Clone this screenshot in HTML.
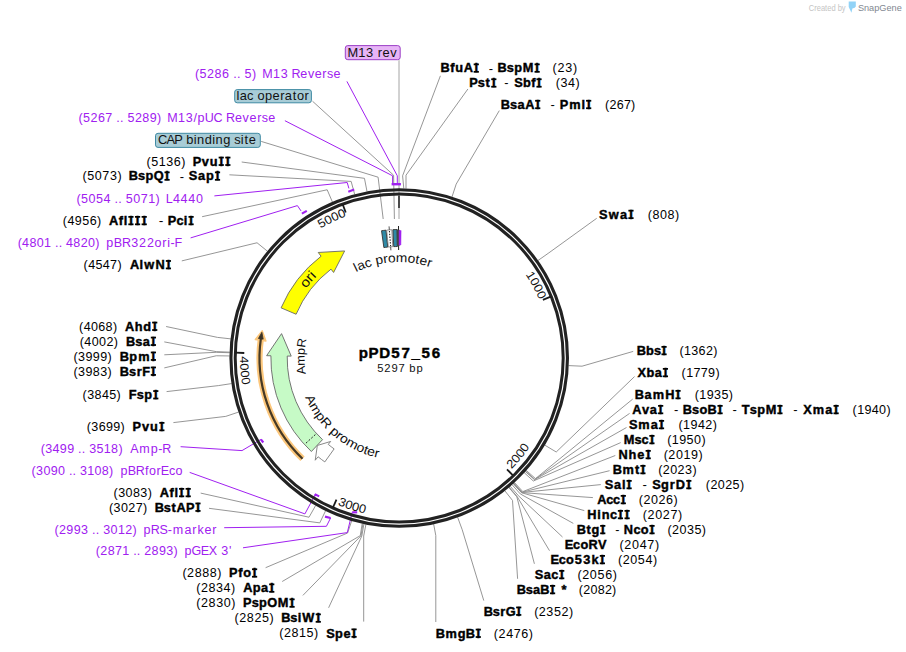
<!DOCTYPE html><html><head><meta charset="utf-8"><style>html,body{margin:0;padding:0;background:#fff;}svg{display:block;}text{font-family:"Liberation Sans",sans-serif;}</style></head><body>
<svg width="906" height="652" viewBox="0 0 906 652">
<rect width="906" height="652" fill="#fff"/>
<polyline points="399.00,60.20 399.00,219.00" fill="none" stroke="#9a9a9a" stroke-width="0.9"/>
<polyline points="312.50,101.20 393.60,175.20 394.40,219.00" fill="none" stroke="#8a8a8a" stroke-width="0.9"/>
<polyline points="261.20,141.40 378.10,177.20 383.20,219.00" fill="none" stroke="#8a8a8a" stroke-width="0.9"/>
<polyline points="241.70,162.00 364.46,178.33 367.03,191.58" fill="none" stroke="#8a8a8a" stroke-width="0.9"/>
<polyline points="229.40,174.80 351.15,181.42 354.69,194.45" fill="none" stroke="#8a8a8a" stroke-width="0.9"/>
<polyline points="202.10,216.70 327.18,189.77 332.49,202.18" fill="none" stroke="#8a8a8a" stroke-width="0.9"/>
<polyline points="181.80,260.90 257.04,242.77 267.53,251.27" fill="none" stroke="#8a8a8a" stroke-width="0.9"/>
<polyline points="166.10,326.50 217.37,337.37 230.78,338.89" fill="none" stroke="#8a8a8a" stroke-width="0.9"/>
<polyline points="164.30,341.90 216.31,351.65 229.80,352.12" fill="none" stroke="#8a8a8a" stroke-width="0.9"/>
<polyline points="164.30,354.80 216.29,352.30 229.78,352.72" fill="none" stroke="#8a8a8a" stroke-width="0.9"/>
<polyline points="164.30,367.90 216.21,355.78 229.71,355.94" fill="none" stroke="#8a8a8a" stroke-width="0.9"/>
<polyline points="166.60,391.60 218.30,385.62 231.64,383.59" fill="none" stroke="#8a8a8a" stroke-width="0.9"/>
<polyline points="173.40,422.60 225.76,416.38 238.56,412.08" fill="none" stroke="#8a8a8a" stroke-width="0.9"/>
<polyline points="200.70,493.10 309.00,517.23 315.66,505.48" fill="none" stroke="#8a8a8a" stroke-width="0.9"/>
<polyline points="209.00,508.30 319.77,522.86 325.63,510.70" fill="none" stroke="#8a8a8a" stroke-width="0.9"/>
<polyline points="265.60,567.70 347.60,533.00 351.69,520.71" fill="none" stroke="#8a8a8a" stroke-width="0.9"/>
<polyline points="282.20,581.50 360.30,535.60 362.20,523.41" fill="none" stroke="#8a8a8a" stroke-width="0.9"/>
<polyline points="302.90,595.40 361.00,535.80 362.99,523.59" fill="none" stroke="#8a8a8a" stroke-width="0.9"/>
<polyline points="328.60,607.80 361.80,536.00 363.97,523.80" fill="none" stroke="#8a8a8a" stroke-width="0.9"/>
<polyline points="363.70,621.60 363.70,536.00 365.94,524.20" fill="none" stroke="#8a8a8a" stroke-width="0.9"/>
<polyline points="435.80,622.00 435.80,535.60 433.64,523.96" fill="none" stroke="#8a8a8a" stroke-width="0.9"/>
<polyline points="483.80,600.60 462.24,529.80 457.59,517.12" fill="none" stroke="#8a8a8a" stroke-width="0.9"/>
<polyline points="440.40,75.80 402.60,175.80 403.82,188.56" fill="none" stroke="#8a8a8a" stroke-width="0.9"/>
<polyline points="467.90,89.00 406.00,175.20 406.03,188.64" fill="none" stroke="#8a8a8a" stroke-width="0.9"/>
<polyline points="499.30,110.60 456.19,184.10 451.99,196.93" fill="none" stroke="#8a8a8a" stroke-width="0.9"/>
<polyline points="596.70,218.30 548.95,252.81 537.90,260.57" fill="none" stroke="#8a8a8a" stroke-width="0.9"/>
<polyline points="633.20,351.40 582.02,366.19 568.53,365.59" fill="none" stroke="#8a8a8a" stroke-width="0.9"/>
<polyline points="634.50,376.60 556.22,451.99 544.63,445.06" fill="none" stroke="#8a8a8a" stroke-width="0.9"/>
<polyline points="632.70,399.10 535.49,478.62 526.13,470.33" fill="none" stroke="#8a8a8a" stroke-width="0.9"/>
<polyline points="629.60,413.40 534.77,479.42 525.46,471.08" fill="none" stroke="#8a8a8a" stroke-width="0.9"/>
<polyline points="626.50,427.50 534.49,479.74 525.19,471.38" fill="none" stroke="#8a8a8a" stroke-width="0.9"/>
<polyline points="620.70,442.60 533.32,481.02 524.11,472.57" fill="none" stroke="#8a8a8a" stroke-width="0.9"/>
<polyline points="615.30,455.50 522.82,491.58 514.33,482.40" fill="none" stroke="#8a8a8a" stroke-width="0.9"/>
<polyline points="609.60,470.70 522.18,492.16 513.74,482.95" fill="none" stroke="#8a8a8a" stroke-width="0.9"/>
<polyline points="600.80,484.60 521.86,492.45 513.44,483.22" fill="none" stroke="#8a8a8a" stroke-width="0.9"/>
<polyline points="592.90,497.60 521.70,492.60 513.29,483.35" fill="none" stroke="#8a8a8a" stroke-width="0.9"/>
<polyline points="584.30,510.60 521.54,492.74 513.14,483.49" fill="none" stroke="#8a8a8a" stroke-width="0.9"/>
<polyline points="573.30,523.40 520.26,493.90 511.95,484.56" fill="none" stroke="#8a8a8a" stroke-width="0.9"/>
<polyline points="562.50,537.00 518.31,495.61 510.13,486.16" fill="none" stroke="#8a8a8a" stroke-width="0.9"/>
<polyline points="549.50,550.70 517.17,496.59 509.07,487.07" fill="none" stroke="#8a8a8a" stroke-width="0.9"/>
<polyline points="534.40,563.80 516.84,496.87 508.76,487.33" fill="none" stroke="#8a8a8a" stroke-width="0.9"/>
<polyline points="517.60,578.80 512.50,500.43 504.72,490.65" fill="none" stroke="#8a8a8a" stroke-width="0.9"/>
<polyline points="346.90,81.40 397.30,175.80 397.30,184.00" fill="none" stroke="#a020f0" stroke-width="1.0"/>
<polyline points="284.90,120.70 392.60,175.80 392.60,184.00" fill="none" stroke="#a020f0" stroke-width="1.0"/>
<polyline points="214.40,195.90 347.20,182.50 348.90,188.40" fill="none" stroke="#a020f0" stroke-width="1.0"/>
<polyline points="190.60,237.90 297.40,205.60 301.00,210.90" fill="none" stroke="#a020f0" stroke-width="1.0"/>
<polyline points="180.60,446.70 242.00,450.60 260.90,439.40" fill="none" stroke="#a020f0" stroke-width="1.0"/>
<polyline points="189.70,472.40 304.90,513.90 314.60,495.80" fill="none" stroke="#a020f0" stroke-width="1.0"/>
<polyline points="224.20,527.70 326.40,526.30 330.60,518.00" fill="none" stroke="#a020f0" stroke-width="1.0"/>
<polyline points="243.00,547.80 347.30,532.60 352.20,512.30" fill="none" stroke="#a020f0" stroke-width="1.0"/>
<text transform="scale(1.02,1)" x="191.10 195.67 203.03 210.39 217.75 224.98 228.66 232.33 236.01 239.82 247.13" y="77.70" font-size="12.3" fill="#a020f0">(5286 .. 5)</text>
<text transform="scale(1.02,1)" x="257.13 267.65 275.14 282.47 285.70 294.43 301.88 308.63 316.05 320.51 326.85" y="77.70" font-size="12.3" fill="#a020f0">M13 Reverse</text>
<text transform="scale(1.02,1)" x="76.98 81.47 88.73 95.99 103.25 110.40 114.03 117.66 121.28 125.02 132.28 139.54 146.80 154.02" y="122.00" font-size="12.3" fill="#a020f0">(5267 .. 5289)</text>
<text transform="scale(1.02,1)" x="163.89 174.53 182.12 189.63 193.71 200.83 209.36 218.15 221.45 230.28 237.82 244.67 252.16 256.69 263.12" y="122.00" font-size="12.3" fill="#a020f0">M13/pUC Reverse</text>
<text transform="scale(1.02,1)" x="143.65 148.24 155.63 163.02 170.41 177.75" y="165.70" font-size="12.3" fill="#000">(5136)</text>
<text transform="scale(1.04,1)" x="185.34 194.07 201.68 211.03 217.39" y="165.70" font-size="12.3" font-weight="bold" fill="#000" stroke="#000" stroke-width="0.4">PvuII</text>
<rect x="218.64" y="156.69" width="5.20" height="1.75" fill="#000"/>
<rect x="218.64" y="164.15" width="5.20" height="1.75" fill="#000"/>
<rect x="225.26" y="156.69" width="5.20" height="1.75" fill="#000"/>
<rect x="225.26" y="164.15" width="5.20" height="1.75" fill="#000"/>
<text transform="scale(1.02,1)" x="80.81 85.45 92.92 100.38 107.84 115.23" y="180.50" font-size="12.3" fill="#000">(5073)</text>
<text transform="scale(1.04,1)" x="123.81 132.67 139.84 147.81 158.93" y="180.50" font-size="12.3" font-weight="bold" fill="#000" stroke="#000" stroke-width="0.4">BspQI</text>
<rect x="164.47" y="171.49" width="5.20" height="1.75" fill="#000"/>
<rect x="164.47" y="178.95" width="5.20" height="1.75" fill="#000"/>
<text x="179.83" y="180.50" font-size="12.3" fill="#000" textLength="4.30" lengthAdjust="spacingAndGlyphs">-</text>
<text transform="scale(1.04,1)" x="181.58 190.37 198.10 207.43" y="180.50" font-size="12.3" font-weight="bold" fill="#000" stroke="#000" stroke-width="0.4">SapI</text>
<rect x="214.91" y="171.49" width="5.20" height="1.75" fill="#000"/>
<rect x="214.91" y="178.95" width="5.20" height="1.75" fill="#000"/>
<text transform="scale(1.02,1)" x="74.92 79.45 86.76 94.07 101.38 108.57 112.23 115.88 119.53 123.30 130.62 137.93 145.24 152.51" y="203.00" font-size="12.3" fill="#a020f0">(5054 .. 5071)</text>
<text transform="scale(1.02,1)" x="162.43 169.52 177.08 184.64 192.20" y="203.00" font-size="12.3" fill="#a020f0">L4440</text>
<text transform="scale(1.02,1)" x="61.59 66.10 73.38 80.67 87.96 95.20" y="225.00" font-size="12.3" fill="#000">(4956)</text>
<text transform="scale(1.04,1)" x="104.79 114.18 118.99 124.18 130.57 136.96" y="225.00" font-size="12.3" font-weight="bold" fill="#000" stroke="#000" stroke-width="0.4">AflIII</text>
<rect x="128.33" y="215.99" width="5.20" height="1.75" fill="#000"/>
<rect x="128.33" y="223.45" width="5.20" height="1.75" fill="#000"/>
<rect x="134.97" y="215.99" width="5.20" height="1.75" fill="#000"/>
<rect x="134.97" y="223.45" width="5.20" height="1.75" fill="#000"/>
<rect x="141.61" y="215.99" width="5.20" height="1.75" fill="#000"/>
<rect x="141.61" y="223.45" width="5.20" height="1.75" fill="#000"/>
<text x="158.78" y="225.00" font-size="12.3" fill="#000" textLength="4.64" lengthAdjust="spacingAndGlyphs">-</text>
<text transform="scale(1.04,1)" x="161.21 169.65 176.80 182.02" y="225.00" font-size="12.3" font-weight="bold" fill="#000" stroke="#000" stroke-width="0.4">PciI</text>
<rect x="188.48" y="215.99" width="5.20" height="1.75" fill="#000"/>
<rect x="188.48" y="223.45" width="5.20" height="1.75" fill="#000"/>
<text transform="scale(1.02,1)" x="17.28 21.70 28.87 36.05 43.23 50.32 53.90 57.49 61.07 64.75 71.92 79.10 86.28 93.44" y="247.20" font-size="12.3" fill="#a020f0">(4801 .. 4820)</text>
<text transform="scale(1.02,1)" x="104.21 111.53 119.55 128.62 136.33 144.03 151.59 159.15 164.00 167.18 171.15" y="247.20" font-size="12.3" fill="#a020f0">pBR322ori-F</text>
<text transform="scale(1.02,1)" x="81.98 86.41 93.59 100.77 107.95 115.11" y="269.10" font-size="12.3" fill="#000">(4547)</text>
<text transform="scale(1.04,1)" x="124.98 134.13 138.67 149.51 160.24" y="269.10" font-size="12.3" font-weight="bold" fill="#000" stroke="#000" stroke-width="0.4">AlwNI</text>
<rect x="165.82" y="260.09" width="5.20" height="1.75" fill="#000"/>
<rect x="165.82" y="267.55" width="5.20" height="1.75" fill="#000"/>
<text transform="scale(1.02,1)" x="77.57 82.00 89.18 96.36 103.54 110.70" y="330.70" font-size="12.3" fill="#000">(4068)</text>
<text transform="scale(1.04,1)" x="120.18 129.53 137.76 147.06" y="330.70" font-size="12.3" font-weight="bold" fill="#000" stroke="#000" stroke-width="0.4">AhdI</text>
<rect x="152.12" y="321.69" width="5.20" height="1.75" fill="#000"/>
<rect x="152.12" y="329.15" width="5.20" height="1.75" fill="#000"/>
<text transform="scale(1.02,1)" x="78.16 82.63 89.88 97.12 104.36 111.58" y="345.70" font-size="12.3" fill="#000">(4002)</text>
<text transform="scale(1.04,1)" x="121.22 129.97 137.18 145.80" y="345.70" font-size="12.3" font-weight="bold" fill="#000" stroke="#000" stroke-width="0.4">BsaI</text>
<rect x="150.81" y="336.69" width="5.20" height="1.75" fill="#000"/>
<rect x="150.81" y="344.15" width="5.20" height="1.75" fill="#000"/>
<text transform="scale(1.02,1)" x="72.08 76.56 83.80 91.04 98.29 105.50" y="360.60" font-size="12.3" fill="#000">(3999)</text>
<text transform="scale(1.04,1)" x="115.25 124.36 132.83 145.78" y="360.60" font-size="12.3" font-weight="bold" fill="#000" stroke="#000" stroke-width="0.4">BpmI</text>
<rect x="150.79" y="351.59" width="5.20" height="1.75" fill="#000"/>
<rect x="150.79" y="359.05" width="5.20" height="1.75" fill="#000"/>
<text transform="scale(1.02,1)" x="72.08 76.56 83.80 91.04 98.29 105.50" y="375.60" font-size="12.3" fill="#000">(3983)</text>
<text transform="scale(1.04,1)" x="115.25 124.13 131.48 136.81 145.78" y="375.60" font-size="12.3" font-weight="bold" fill="#000" stroke="#000" stroke-width="0.4">BsrFI</text>
<rect x="150.78" y="366.59" width="5.20" height="1.75" fill="#000"/>
<rect x="150.78" y="374.05" width="5.20" height="1.75" fill="#000"/>
<text transform="scale(1.02,1)" x="81.00 85.46 92.68 99.90 107.13 114.32" y="399.20" font-size="12.3" fill="#000">(3845)</text>
<text transform="scale(1.04,1)" x="123.71 131.40 138.71 148.08" y="399.20" font-size="12.3" font-weight="bold" fill="#000" stroke="#000" stroke-width="0.4">FspI</text>
<rect x="153.18" y="390.19" width="5.20" height="1.75" fill="#000"/>
<rect x="153.18" y="397.65" width="5.20" height="1.75" fill="#000"/>
<text transform="scale(1.02,1)" x="85.12 89.54 96.72 103.90 111.08 118.24" y="431.00" font-size="12.3" fill="#000">(3699)</text>
<text transform="scale(1.04,1)" x="127.46 136.45 144.32 153.92" y="431.00" font-size="12.3" font-weight="bold" fill="#000" stroke="#000" stroke-width="0.4">PvuI</text>
<rect x="159.25" y="421.99" width="5.20" height="1.75" fill="#000"/>
<rect x="159.25" y="429.45" width="5.20" height="1.75" fill="#000"/>
<text transform="scale(1.02,1)" x="39.92 44.34 51.52 58.70 65.87 72.96 76.55 80.14 83.72 87.39 94.57 101.75 108.92 116.08" y="453.00" font-size="12.3" fill="#a020f0">(3499 .. 3518)</text>
<text transform="scale(1.02,1)" x="127.72 136.58 147.87 155.17 159.07" y="453.00" font-size="12.3" fill="#a020f0">Amp-R</text>
<text transform="scale(1.02,1)" x="31.00 35.41 42.57 49.72 56.88 63.96 67.53 71.11 74.69 78.35 85.50 92.66 99.82 106.97" y="474.90" font-size="12.3" fill="#a020f0">(3090 .. 3108)</text>
<text transform="scale(1.02,1)" x="118.23 125.34 133.16 142.08 146.06 153.47 157.57 165.58 172.10" y="474.90" font-size="12.3" fill="#a020f0">pBRforEco</text>
<text transform="scale(1.02,1)" x="111.40 115.87 123.11 130.36 137.60 144.81" y="497.00" font-size="12.3" fill="#000">(3083)</text>
<text transform="scale(1.04,1)" x="153.64 162.98 167.76 172.93 179.27" y="497.00" font-size="12.3" font-weight="bold" fill="#000" stroke="#000" stroke-width="0.4">AflII</text>
<rect x="179.02" y="487.99" width="5.20" height="1.75" fill="#000"/>
<rect x="179.02" y="495.45" width="5.20" height="1.75" fill="#000"/>
<rect x="185.62" y="487.99" width="5.20" height="1.75" fill="#000"/>
<rect x="185.62" y="495.45" width="5.20" height="1.75" fill="#000"/>
<text transform="scale(1.02,1)" x="106.89 111.36 118.60 125.85 133.09 140.30" y="511.60" font-size="12.3" fill="#000">(3027)</text>
<text transform="scale(1.04,1)" x="148.71 157.57 165.00 169.79 178.87 188.65" y="511.60" font-size="12.3" font-weight="bold" fill="#000" stroke="#000" stroke-width="0.4">BstAPI</text>
<rect x="195.37" y="502.59" width="5.20" height="1.75" fill="#000"/>
<rect x="195.37" y="510.05" width="5.20" height="1.75" fill="#000"/>
<text transform="scale(1.02,1)" x="53.36 57.81 65.03 72.26 79.48 86.61 90.21 93.82 97.43 101.14 108.36 115.58 122.81 130.00" y="533.90" font-size="12.3" fill="#a020f0">(2993 .. 3012)</text>
<text transform="scale(1.02,1)" x="140.77 147.85 156.30 164.46 169.49 180.90 188.53 193.54 200.48 208.13" y="533.90" font-size="12.3" fill="#a020f0">pRS-marker</text>
<text transform="scale(1.02,1)" x="93.94 98.36 105.54 112.72 119.89 126.98 130.57 134.16 137.74 141.41 148.59 155.77 162.94 170.10" y="555.50" font-size="12.3" fill="#a020f0">(2871 .. 2893)</text>
<text transform="scale(1.02,1)" x="180.87 187.85 196.86 204.65 212.97 216.91 224.55" y="555.50" font-size="12.3" fill="#a020f0">pGEX 3'</text>
<text transform="scale(1.02,1)" x="178.85 183.46 190.88 198.30 205.72 213.08" y="577.40" font-size="12.3" fill="#000">(2888)</text>
<text transform="scale(1.04,1)" x="220.31 229.07 233.87 243.08" y="577.40" font-size="12.3" font-weight="bold" fill="#000" stroke="#000" stroke-width="0.4">PfoI</text>
<rect x="251.98" y="568.39" width="5.20" height="1.75" fill="#000"/>
<rect x="251.98" y="575.85" width="5.20" height="1.75" fill="#000"/>
<text transform="scale(1.02,1)" x="192.47 197.06 204.46 211.85 219.24 226.57" y="592.50" font-size="12.3" fill="#000">(2834)</text>
<text transform="scale(1.04,1)" x="234.02 243.01 251.05 259.59" y="592.50" font-size="12.3" font-weight="bold" fill="#000" stroke="#000" stroke-width="0.4">ApaI</text>
<rect x="269.15" y="583.49" width="5.20" height="1.75" fill="#000"/>
<rect x="269.15" y="590.95" width="5.20" height="1.75" fill="#000"/>
<text transform="scale(1.02,1)" x="192.47 197.09 204.51 211.93 219.35 226.71" y="607.50" font-size="12.3" fill="#000">(2830)</text>
<text transform="scale(1.04,1)" x="233.68 242.01 249.13 257.06 267.11 279.11" y="607.50" font-size="12.3" font-weight="bold" fill="#000" stroke="#000" stroke-width="0.4">PspOMI</text>
<rect x="289.45" y="598.49" width="5.20" height="1.75" fill="#000"/>
<rect x="289.45" y="605.95" width="5.20" height="1.75" fill="#000"/>
<text transform="scale(1.02,1)" x="230.02 234.62 242.02 249.43 256.83 264.17" y="622.50" font-size="12.3" fill="#000">(2825)</text>
<text transform="scale(1.04,1)" x="270.40 279.19 286.25 290.68 304.33" y="622.50" font-size="12.3" font-weight="bold" fill="#000" stroke="#000" stroke-width="0.4">BsiWI</text>
<rect x="315.68" y="613.49" width="5.20" height="1.75" fill="#000"/>
<rect x="315.68" y="620.95" width="5.20" height="1.75" fill="#000"/>
<text transform="scale(1.02,1)" x="273.75 278.35 285.75 293.16 300.56 307.91" y="637.50" font-size="12.3" fill="#000">(2815)</text>
<text transform="scale(1.04,1)" x="313.76 322.11 330.18 338.71" y="637.50" font-size="12.3" font-weight="bold" fill="#000" stroke="#000" stroke-width="0.4">SpeI</text>
<rect x="351.44" y="628.49" width="5.20" height="1.75" fill="#000"/>
<rect x="351.44" y="635.95" width="5.20" height="1.75" fill="#000"/>
<text transform="scale(1.04,1)" x="423.61 432.88 437.82 445.84 456.24" y="72.50" font-size="12.3" font-weight="bold" fill="#000" stroke="#000" stroke-width="0.4">BfuAI</text>
<rect x="473.67" y="63.49" width="5.20" height="1.75" fill="#000"/>
<rect x="473.67" y="70.95" width="5.20" height="1.75" fill="#000"/>
<text x="488.82" y="72.50" font-size="12.3" fill="#000" textLength="4.32" lengthAdjust="spacingAndGlyphs">-</text>
<text transform="scale(1.04,1)" x="478.32 487.23 494.43 502.69 514.77" y="72.50" font-size="12.3" font-weight="bold" fill="#000" stroke="#000" stroke-width="0.4">BspMI</text>
<rect x="534.53" y="63.49" width="5.20" height="1.75" fill="#000"/>
<rect x="534.53" y="70.95" width="5.20" height="1.75" fill="#000"/>
<text transform="scale(1.02,1)" x="541.69 546.53 554.25 561.85" y="72.50" font-size="12.3" fill="#000">(23)</text>
<text transform="scale(1.04,1)" x="451.12 459.50 466.94 473.10" y="87.40" font-size="12.3" font-weight="bold" fill="#000" stroke="#000" stroke-width="0.4">PstI</text>
<rect x="491.21" y="78.39" width="5.20" height="1.75" fill="#000"/>
<rect x="491.21" y="85.85" width="5.20" height="1.75" fill="#000"/>
<text x="504.33" y="87.40" font-size="12.3" fill="#000" textLength="4.26" lengthAdjust="spacingAndGlyphs">-</text>
<text transform="scale(1.04,1)" x="494.47 502.79 510.80 516.61" y="87.40" font-size="12.3" font-weight="bold" fill="#000" stroke="#000" stroke-width="0.4">SbfI</text>
<rect x="536.45" y="78.39" width="5.20" height="1.75" fill="#000"/>
<rect x="536.45" y="85.85" width="5.20" height="1.75" fill="#000"/>
<text transform="scale(1.02,1)" x="544.83 549.41 556.80 564.12" y="87.40" font-size="12.3" fill="#000">(34)</text>
<text transform="scale(1.04,1)" x="481.50 490.35 497.65 505.00 515.34" y="108.90" font-size="12.3" font-weight="bold" fill="#000" stroke="#000" stroke-width="0.4">BsaAI</text>
<rect x="535.13" y="99.89" width="5.20" height="1.75" fill="#000"/>
<rect x="535.13" y="107.35" width="5.20" height="1.75" fill="#000"/>
<text x="550.43" y="108.90" font-size="12.3" fill="#000" textLength="4.29" lengthAdjust="spacingAndGlyphs">-</text>
<text transform="scale(1.04,1)" x="538.13 547.25 559.13 564.32" y="108.90" font-size="12.3" font-weight="bold" fill="#000" stroke="#000" stroke-width="0.4">PmlI</text>
<rect x="586.07" y="99.89" width="5.20" height="1.75" fill="#000"/>
<rect x="586.07" y="107.35" width="5.20" height="1.75" fill="#000"/>
<text transform="scale(1.02,1)" x="593.16 597.51 604.59 611.66 618.74" y="108.90" font-size="12.3" fill="#000">(267)</text>
<text transform="scale(1.04,1)" x="576.00 585.23 596.22 605.01" y="218.80" font-size="12.3" font-weight="bold" fill="#000" stroke="#000" stroke-width="0.4">SwaI</text>
<rect x="628.38" y="209.79" width="5.20" height="1.75" fill="#000"/>
<rect x="628.38" y="217.25" width="5.20" height="1.75" fill="#000"/>
<text transform="scale(1.02,1)" x="635.02 639.60 646.98 654.35 661.67" y="218.80" font-size="12.3" fill="#000">(808)</text>
<text transform="scale(1.04,1)" x="612.28 621.15 628.74 636.80" y="355.00" font-size="12.3" font-weight="bold" fill="#000" stroke="#000" stroke-width="0.4">BbsI</text>
<rect x="661.45" y="345.99" width="5.20" height="1.75" fill="#000"/>
<rect x="661.45" y="353.45" width="5.20" height="1.75" fill="#000"/>
<text transform="scale(1.02,1)" x="666.10 670.53 677.71 684.89 692.07 699.23" y="355.00" font-size="12.3" fill="#000">(1362)</text>
<text transform="scale(1.04,1)" x="612.97 621.58 629.60 638.12" y="377.00" font-size="12.3" font-weight="bold" fill="#000" stroke="#000" stroke-width="0.4">XbaI</text>
<rect x="662.82" y="367.99" width="5.20" height="1.75" fill="#000"/>
<rect x="662.82" y="375.45" width="5.20" height="1.75" fill="#000"/>
<text transform="scale(1.02,1)" x="668.26 672.68 679.86 687.04 694.22 701.38" y="377.00" font-size="12.3" fill="#000">(1779)</text>
<text transform="scale(1.04,1)" x="610.34 619.62 627.59 639.56 650.25" y="399.00" font-size="12.3" font-weight="bold" fill="#000" stroke="#000" stroke-width="0.4">BamHI</text>
<rect x="675.44" y="389.99" width="5.20" height="1.75" fill="#000"/>
<rect x="675.44" y="397.45" width="5.20" height="1.75" fill="#000"/>
<text transform="scale(1.02,1)" x="681.20 685.64 692.84 700.04 707.24 714.42" y="399.00" font-size="12.3" fill="#000">(1935)</text>
<text transform="scale(1.04,1)" x="608.06 617.28 624.86 633.54" y="414.00" font-size="12.3" font-weight="bold" fill="#000" stroke="#000" stroke-width="0.4">AvaI</text>
<rect x="658.06" y="404.99" width="5.20" height="1.75" fill="#000"/>
<rect x="658.06" y="412.45" width="5.20" height="1.75" fill="#000"/>
<text x="674.12" y="414.00" font-size="12.3" fill="#000" textLength="4.33" lengthAdjust="spacingAndGlyphs">-</text>
<text transform="scale(1.04,1)" x="656.40 665.34 672.50 680.32 690.66" y="414.00" font-size="12.3" font-weight="bold" fill="#000" stroke="#000" stroke-width="0.4">BsoBI</text>
<rect x="717.47" y="404.99" width="5.20" height="1.75" fill="#000"/>
<rect x="717.47" y="412.45" width="5.20" height="1.75" fill="#000"/>
<text x="732.62" y="414.00" font-size="12.3" fill="#000" textLength="4.33" lengthAdjust="spacingAndGlyphs">-</text>
<text transform="scale(1.04,1)" x="713.32 721.00 728.11 736.24 748.24" y="414.00" font-size="12.3" font-weight="bold" fill="#000" stroke="#000" stroke-width="0.4">TspMI</text>
<rect x="777.34" y="404.99" width="5.20" height="1.75" fill="#000"/>
<rect x="777.34" y="412.45" width="5.20" height="1.75" fill="#000"/>
<text x="793.32" y="414.00" font-size="12.3" fill="#000" textLength="4.33" lengthAdjust="spacingAndGlyphs">-</text>
<text transform="scale(1.04,1)" x="772.30 781.52 793.53 802.25" y="414.00" font-size="12.3" font-weight="bold" fill="#000" stroke="#000" stroke-width="0.4">XmaI</text>
<rect x="833.52" y="404.99" width="5.20" height="1.75" fill="#000"/>
<rect x="833.52" y="412.45" width="5.20" height="1.75" fill="#000"/>
<text transform="scale(1.02,1)" x="835.91 840.33 847.51 854.69 861.87 869.03" y="414.00" font-size="12.3" fill="#000">(1940)</text>
<text transform="scale(1.04,1)" x="604.75 613.66 625.67 634.37" y="429.00" font-size="12.3" font-weight="bold" fill="#000" stroke="#000" stroke-width="0.4">SmaI</text>
<rect x="658.92" y="419.99" width="5.20" height="1.75" fill="#000"/>
<rect x="658.92" y="427.45" width="5.20" height="1.75" fill="#000"/>
<text transform="scale(1.02,1)" x="665.22 669.71 676.97 684.24 691.50 698.73" y="429.00" font-size="12.3" fill="#000">(1942)</text>
<text transform="scale(1.04,1)" x="599.67 610.18 616.95 625.13" y="444.00" font-size="12.3" font-weight="bold" fill="#000" stroke="#000" stroke-width="0.4">MscI</text>
<rect x="649.32" y="434.99" width="5.20" height="1.75" fill="#000"/>
<rect x="649.32" y="442.45" width="5.20" height="1.75" fill="#000"/>
<text transform="scale(1.02,1)" x="654.13 658.62 665.89 673.15 680.42 687.65" y="444.00" font-size="12.3" fill="#000">(1950)</text>
<text transform="scale(1.04,1)" x="594.66 604.44 612.81 621.57" y="459.00" font-size="12.3" font-weight="bold" fill="#000" stroke="#000" stroke-width="0.4">NheI</text>
<rect x="645.61" y="449.99" width="5.20" height="1.75" fill="#000"/>
<rect x="645.61" y="457.45" width="5.20" height="1.75" fill="#000"/>
<text transform="scale(1.02,1)" x="650.70 655.27 662.65 670.02 677.39 684.71" y="459.00" font-size="12.3" fill="#000">(2019)</text>
<text transform="scale(1.04,1)" x="589.29 598.59 610.48 616.48" y="474.00" font-size="12.3" font-weight="bold" fill="#000" stroke="#000" stroke-width="0.4">BmtI</text>
<rect x="640.32" y="464.99" width="5.20" height="1.75" fill="#000"/>
<rect x="640.32" y="472.45" width="5.20" height="1.75" fill="#000"/>
<text transform="scale(1.02,1)" x="645.27 649.77 657.04 664.32 671.59 678.83" y="474.00" font-size="12.3" fill="#000">(2023)</text>
<text transform="scale(1.04,1)" x="581.58 590.36 597.98 603.21" y="489.00" font-size="12.3" font-weight="bold" fill="#000" stroke="#000" stroke-width="0.4">SalI</text>
<rect x="626.52" y="479.99" width="5.20" height="1.75" fill="#000"/>
<rect x="626.52" y="487.45" width="5.20" height="1.75" fill="#000"/>
<text x="642.61" y="489.00" font-size="12.3" fill="#000" textLength="4.39" lengthAdjust="spacingAndGlyphs">-</text>
<text transform="scale(1.04,1)" x="627.06 635.68 644.05 649.85 660.61" y="489.00" font-size="12.3" font-weight="bold" fill="#000" stroke="#000" stroke-width="0.4">SgrDI</text>
<rect x="686.21" y="479.99" width="5.20" height="1.75" fill="#000"/>
<rect x="686.21" y="487.45" width="5.20" height="1.75" fill="#000"/>
<text transform="scale(1.02,1)" x="691.98 696.46 703.70 710.94 718.19 725.40" y="489.00" font-size="12.3" fill="#000">(2025)</text>
<text transform="scale(1.04,1)" x="574.22 582.91 589.54 597.62" y="504.00" font-size="12.3" font-weight="bold" fill="#000" stroke="#000" stroke-width="0.4">AccI</text>
<rect x="620.70" y="494.99" width="5.20" height="1.75" fill="#000"/>
<rect x="620.70" y="502.45" width="5.20" height="1.75" fill="#000"/>
<text transform="scale(1.02,1)" x="626.29 630.88 638.27 645.67 653.06 660.40" y="504.00" font-size="12.3" fill="#000">(2026)</text>
<text transform="scale(1.04,1)" x="564.66 574.32 578.49 586.48 594.86 601.29" y="519.00" font-size="12.3" font-weight="bold" fill="#000" stroke="#000" stroke-width="0.4">HincII</text>
<rect x="617.84" y="509.99" width="5.20" height="1.75" fill="#000"/>
<rect x="617.84" y="517.45" width="5.20" height="1.75" fill="#000"/>
<rect x="624.52" y="509.99" width="5.20" height="1.75" fill="#000"/>
<rect x="624.52" y="517.45" width="5.20" height="1.75" fill="#000"/>
<text transform="scale(1.02,1)" x="630.23 634.91 642.40 649.89 657.39 664.80" y="519.00" font-size="12.3" fill="#000">(2027)</text>
<text transform="scale(1.04,1)" x="554.58 563.85 568.77 577.86" y="534.00" font-size="12.3" font-weight="bold" fill="#000" stroke="#000" stroke-width="0.4">BtgI</text>
<rect x="600.15" y="524.99" width="5.20" height="1.75" fill="#000"/>
<rect x="600.15" y="532.45" width="5.20" height="1.75" fill="#000"/>
<text x="615.33" y="534.00" font-size="12.3" fill="#000" textLength="4.21" lengthAdjust="spacingAndGlyphs">-</text>
<text transform="scale(1.04,1)" x="599.72 609.04 616.08 625.25" y="534.00" font-size="12.3" font-weight="bold" fill="#000" stroke="#000" stroke-width="0.4">NcoI</text>
<rect x="649.43" y="524.99" width="5.20" height="1.75" fill="#000"/>
<rect x="649.43" y="532.45" width="5.20" height="1.75" fill="#000"/>
<text transform="scale(1.02,1)" x="654.33 658.85 666.16 673.47 680.78 688.04" y="534.00" font-size="12.3" fill="#000">(2035)</text>
<text transform="scale(1.04,1)" x="543.02 551.04 558.06 565.85 575.10" y="549.00" font-size="12.3" font-weight="bold" fill="#000" stroke="#000" stroke-width="0.4">EcoRV</text>
<text transform="scale(1.02,1)" x="607.45 612.13 619.63 627.13 634.63 642.06" y="549.00" font-size="12.3" fill="#000">(2047)</text>
<text transform="scale(1.04,1)" x="529.29 537.28 544.29 552.67 560.85 568.81 577.50" y="564.00" font-size="12.3" font-weight="bold" fill="#000" stroke="#000" stroke-width="0.4">Eco53kI</text>
<rect x="599.78" y="554.99" width="5.20" height="1.75" fill="#000"/>
<rect x="599.78" y="562.45" width="5.20" height="1.75" fill="#000"/>
<text transform="scale(1.02,1)" x="605.85 610.48 617.93 625.37 632.82 640.20" y="564.00" font-size="12.3" fill="#000">(2054)</text>
<text transform="scale(1.04,1)" x="514.27 522.91 530.18 538.41" y="579.00" font-size="12.3" font-weight="bold" fill="#000" stroke="#000" stroke-width="0.4">SacI</text>
<rect x="559.12" y="569.99" width="5.20" height="1.75" fill="#000"/>
<rect x="559.12" y="577.45" width="5.20" height="1.75" fill="#000"/>
<text transform="scale(1.02,1)" x="566.07 570.76 578.29 585.81 593.34 600.78" y="579.00" font-size="12.3" fill="#000">(2056)</text>
<text transform="scale(1.04,1)" x="496.85 505.48 512.54 519.51 529.62 534.59 539.79" y="594.00" font-size="12.3" font-weight="bold" fill="#000" stroke="#000" stroke-width="0.4">BsaBI *</text>
<rect x="549.98" y="584.99" width="5.20" height="1.75" fill="#000"/>
<rect x="549.98" y="592.45" width="5.20" height="1.75" fill="#000"/>
<text transform="scale(1.02,1)" x="567.43 571.77 578.86 585.94 593.03 600.11" y="594.00" font-size="12.3" fill="#000">(2082)</text>
<text transform="scale(1.04,1)" x="465.06 473.83 481.09 486.26 497.06" y="615.60" font-size="12.3" font-weight="bold" fill="#000" stroke="#000" stroke-width="0.4">BsrGI</text>
<rect x="516.12" y="606.59" width="5.20" height="1.75" fill="#000"/>
<rect x="516.12" y="614.05" width="5.20" height="1.75" fill="#000"/>
<text transform="scale(1.02,1)" x="523.70 528.28 535.66 543.04 550.42 557.75" y="615.60" font-size="12.3" fill="#000">(2352)</text>
<text transform="scale(1.04,1)" x="418.90 428.39 440.20 447.95 458.18" y="637.70" font-size="12.3" font-weight="bold" fill="#000" stroke="#000" stroke-width="0.4">BmgBI</text>
<rect x="475.69" y="628.69" width="5.20" height="1.75" fill="#000"/>
<rect x="475.69" y="636.15" width="5.20" height="1.75" fill="#000"/>
<text transform="scale(1.02,1)" x="484.16 488.78 496.21 503.64 511.07 518.43" y="637.70" font-size="12.3" fill="#000">(2476)</text>
<rect x="345.3" y="45.6" width="54.90" height="14.10" rx="2.5" fill="#e7b4f6" stroke="#9b3fc6" stroke-width="1"/>
<text transform="scale(1.02,1)" x="340.64 351.33 358.93 366.38 370.39 375.12 382.68" y="56.70" font-size="12.6" fill="#111">M13 rev</text>
<rect x="234.7" y="89.6" width="76.70" height="13.20" rx="2.5" fill="#a8ccd6" stroke="#3f8aa3" stroke-width="1"/>
<text transform="scale(1.02,1)" x="231.79 234.94 242.16 248.70 252.43 259.80 267.18 274.66 279.30 287.00 291.17 298.63" y="99.70" font-size="12.6" fill="#111">lac operator</text>
<rect x="155.5" y="133.3" width="104.80" height="14.10" rx="2.5" fill="#a8ccd6" stroke="#3f8aa3" stroke-width="1"/>
<text transform="scale(1.02,1)" x="154.85 163.31 170.86 178.70 182.55 190.00 193.25 200.69 208.14 211.39 218.84 226.17 229.70 236.13 239.71 243.87" y="144.00" font-size="12.6" fill="#111">CAP binding site</text>
<text transform="scale(1.04,1)" x="344.90 354.28 364.57 376.33 386.05 395.70 405.36 415.08" y="357.60" font-size="14.5" font-weight="bold" fill="#000" stroke="#000" stroke-width="0.4">pPD57_56</text>
<text transform="scale(1.02,1)" x="369.75 376.77 383.79 390.81 397.61 401.32 408.32" y="371.60" font-size="11" fill="#111">5297 bp</text>
<circle cx="399.2" cy="358.0" r="168.25" fill="none" stroke="#222" stroke-width="3.1"/>
<circle cx="399.2" cy="358.0" r="164.0" fill="none" stroke="#222" stroke-width="3.0"/>
<polyline points="391.60,184.20 400.90,184.20" fill="none" stroke="#a020f0" stroke-width="2.4"/>
<polyline points="348.30,191.70 354.20,189.50" fill="none" stroke="#a020f0" stroke-width="2.2"/>
<polyline points="301.90,213.60 306.80,210.90" fill="none" stroke="#a020f0" stroke-width="2.2"/>
<polyline points="260.90,439.40 263.30,442.50" fill="none" stroke="#a020f0" stroke-width="2.2"/>
<polyline points="314.60,495.80 315.60,494.50 319.20,496.40" fill="none" stroke="#a020f0" stroke-width="2.0"/>
<polyline points="325.00,516.60 330.60,518.00" fill="none" stroke="#a020f0" stroke-width="2.2"/>
<polyline points="352.20,512.30 357.20,512.30" fill="none" stroke="#a020f0" stroke-width="2.2"/>
<path d="M302.51,458.83 A139.7,139.7 0 0 1 260.93,338.07" fill="none" stroke="#fcc77c" stroke-width="6.2" stroke-linecap="butt"/>
<path d="M265.89,340.92 L262.16,330.87 L255.38,339.58 Z" fill="#fcc77c" stroke="#fcc77c" stroke-width="1.5" stroke-linejoin="round"/>
<path d="M302.51,458.83 A139.7,139.7 0 0 1 260.93,338.07" fill="none" stroke="#463925" stroke-width="2.2"/>
<path d="M263.20,339.13 L261.88,332.30 L258.45,338.47 Z" fill="#3b3328" stroke="#3b3328" stroke-width="0.8"/>
<path d="M281.10,307.87 A128.3,128.3 0 0 1 321.10,256.21 L318.23,252.48 L344.65,250.95 L333.58,272.48 L331.02,269.14 A112.0,112.0 0 0 0 296.10,314.24 Z" fill="#ffff00" stroke="#666" stroke-width="0.9" stroke-linejoin="miter"/>
<path d="M311.37,451.53 A128.3,128.3 0 0 1 270.92,355.76 L266.62,355.69 L281.55,333.64 L291.22,356.12 L287.22,356.05 A112.0,112.0 0 0 0 322.53,439.64 Z" fill="#c6fac6" stroke="#666" stroke-width="0.9" stroke-linejoin="miter"/>
<path d="M315.39,434.53 L305.42,443.64" stroke="#222" stroke-width="1" stroke-dasharray="2,1.6"/>
<path d="M324.80,461.91 A127.8,127.8 0 0 1 318.08,456.76 L315.23,460.23 L317.34,445.47 L330.65,441.46 L328.24,444.39 A111.8,111.8 0 0 0 334.12,448.90 Z" fill="#ffffff" stroke="#7a7a7a" stroke-width="0.9" stroke-linejoin="miter"/>
<path d="M390.91,250.32 L389.07,226.39" stroke="#555" stroke-width="1"/>
<path d="M398.63,250.00 L398.51,226.00" stroke="#222" stroke-width="1"/>
<path d="M381.54,230.72 A128.5,128.5 0 0 1 385.99,230.18 L387.74,247.09 A111.5,111.5 0 0 0 383.87,247.56 Z" fill="#2f8aa6" stroke="#333" stroke-width="0.9"/>
<path d="M386.66,230.11 A128.5,128.5 0 0 1 391.80,229.71 L392.78,246.68 A111.5,111.5 0 0 0 388.32,247.03 Z" fill="#ffffff" stroke="#666" stroke-width="0.7"/>
<path d="M390.61,246.33 L389.38,230.38" stroke="#222" stroke-width="1.1" stroke-dasharray="1.4,1.4"/>
<path d="M392.92,229.65 A128.5,128.5 0 0 1 397.18,229.52 L397.45,246.51 A111.5,111.5 0 0 0 393.75,246.63 Z" fill="#2f8aa6" stroke="#333" stroke-width="0.9"/>
<path d="M396.97,230.02 A128.0,128.0 0 0 1 399.42,230.00 L399.40,245.50 A112.5,112.5 0 0 0 397.24,245.52 Z" fill="#444" stroke="#444" stroke-width="0.6"/>
<path d="M399.09,230.50 A127.5,127.5 0 0 1 401.09,230.51 L400.88,245.01 A113.0,113.0 0 0 0 399.10,245.00 Z" fill="#a020f0" stroke="#a020f0" stroke-width="0.5"/>
<line x1="399.0" y1="195.6" x2="399.0" y2="208.0" stroke="#3a3a3a" stroke-width="1.8"/>
<path d="M550.75,296.65 L542.88,299.84" stroke="#1a1a1a" stroke-width="1.8"/>
<path d="M512.93,475.47 L507.02,469.36" stroke="#1a1a1a" stroke-width="1.8"/>
<path d="M332.99,507.49 L336.43,499.72" stroke="#1a1a1a" stroke-width="1.8"/>
<path d="M235.79,352.72 L244.28,352.99" stroke="#1a1a1a" stroke-width="1.8"/>
<path d="M342.78,204.54 L345.72,212.52" stroke="#1a1a1a" stroke-width="1.8"/>
<path id="cp1" d="M328.08,224.23 A151.5,151.5 0 0 1 470.32,491.77" fill="none" stroke="none"/>
<text font-size="12" fill="#111"><textPath href="#cp1" startOffset="50%" text-anchor="middle" textLength="29.00" lengthAdjust="spacingAndGlyphs">1000</textPath></text>
<path id="cp2" d="M262.80,423.94 A151.5,151.5 0 0 1 535.60,292.06" fill="none" stroke="none"/>
<text font-size="12" fill="#111"><textPath href="#cp2" startOffset="50%" text-anchor="middle" textLength="29.00" lengthAdjust="spacingAndGlyphs">5000</textPath></text>
<path id="cp3" d="M297.94,480.84 A159.2,159.2 0 0 0 500.46,235.16" fill="none" stroke="none"/>
<text font-size="12" fill="#111"><textPath href="#cp3" startOffset="50%" text-anchor="middle" textLength="29.00" lengthAdjust="spacingAndGlyphs">2000</textPath></text>
<path id="cp4" d="M247.45,309.86 A159.2,159.2 0 0 0 550.95,406.14" fill="none" stroke="none"/>
<text font-size="12" fill="#111"><textPath href="#cp4" startOffset="50%" text-anchor="middle" textLength="29.00" lengthAdjust="spacingAndGlyphs">3000</textPath></text>
<path id="cp5" d="M386.43,199.31 A159.2,159.2 0 0 0 411.97,516.69" fill="none" stroke="none"/>
<text font-size="12" fill="#111"><textPath href="#cp5" startOffset="50%" text-anchor="middle" textLength="29.00" lengthAdjust="spacingAndGlyphs">4000</textPath></text>
<path id="cp6" d="M303.51,364.36 A95.9,95.9 0 0 1 494.89,351.64" fill="none" stroke="none"/>
<text font-size="12.8" fill="#111"><textPath href="#cp6" startOffset="50%" text-anchor="middle" textLength="76.50" lengthAdjust="spacingAndGlyphs">lac promoter</textPath></text>
<path id="cp7" d="M323.36,446.17 A116.3,116.3 0 0 1 475.04,269.83" fill="none" stroke="none"/>
<text font-size="13.6" fill="#111"><textPath href="#cp7" startOffset="50%" text-anchor="middle" textLength="16.80" lengthAdjust="spacingAndGlyphs">ori</textPath></text>
<path id="cp8" d="M397.71,452.59 A94.6,94.6 0 0 1 400.69,263.41" fill="none" stroke="none"/>
<text font-size="12.2" fill="#111"><textPath href="#cp8" startOffset="50%" text-anchor="middle" textLength="35.50" lengthAdjust="spacingAndGlyphs">AmpR</textPath></text>
<path id="cp9" d="M320.61,292.98 A102.0,102.0 0 0 0 477.79,423.02" fill="none" stroke="none"/>
<text font-size="12.6" fill="#111"><textPath href="#cp9" startOffset="50%" text-anchor="middle" textLength="99.00" lengthAdjust="spacingAndGlyphs">AmpR promoter</textPath></text>
<text x="808.8" y="10.8" font-size="8.4" fill="#c4c4c4" textLength="36.8" lengthAdjust="spacingAndGlyphs">Created by</text>
<path d="M848.7,1.6 L855.8,1.6 L855.8,6.4 Q855.4,8.0 852.4,8.4 L851.4,12.8 Q850.2,10.0 848.7,7.0 Z" fill="#92d3f7"/>
<text x="857.9" y="10.8" font-size="8.6" fill="#7f8790" textLength="43.9" lengthAdjust="spacingAndGlyphs">SnapGene</text>
</svg></body></html>
